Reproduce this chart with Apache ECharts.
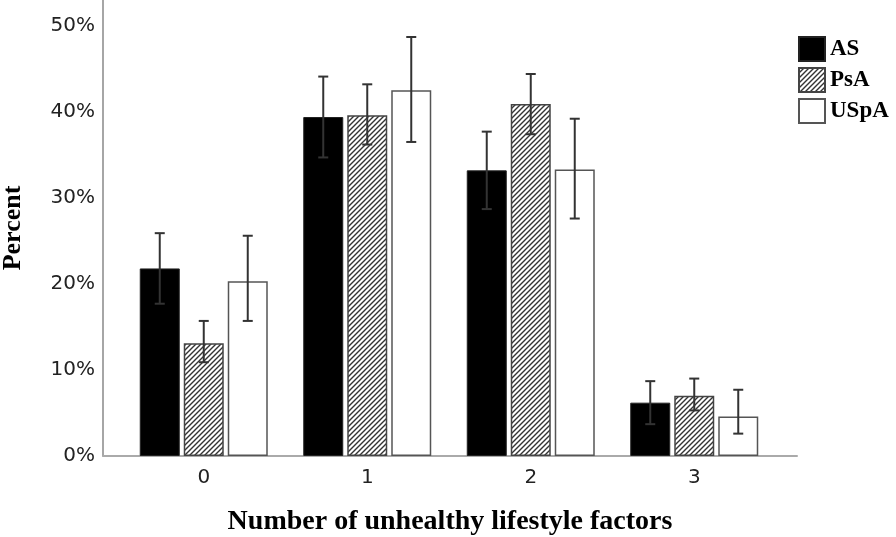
<!DOCTYPE html>
<html><head><meta charset="utf-8">
<script src="https://cdn.jsdelivr.net/npm/echarts@6/dist/echarts.min.js"></script>
<style>html,body{margin:0;padding:0;background:#fff}#c{width:896px;height:537px}</style>
</head><body><div id="c"></div>
<script>
const categories = ['0', '1', '2', '3'];
const seriesNames = ['AS', 'PsA', 'USpA'];
const asVals = [21.8, 39.4, 33.2, 6.2];
const psaVals = [13.1, 39.6, 40.9, 7.0];
const uspaVals = [20.3, 42.5, 33.3, 4.6];
const asErrLow = [17.7, 34.7, 28.7, 3.7];
const asErrHigh = [25.9, 44.1, 37.7, 8.7];
const psaErrLow = [10.9, 36.2, 37.4, 5.3];
const psaErrHigh = [15.7, 43.2, 44.4, 9.0];
const uspaErrLow = [15.7, 36.5, 27.6, 2.6];
const uspaErrHigh = [25.6, 48.7, 39.2, 7.7];
const yTicks = [0, 10, 20, 30, 40, 50];

// hatch pattern
const pc = document.createElement('canvas');
pc.width = 5; pc.height = 5;
const g = pc.getContext('2d');
g.fillStyle = '#fff'; g.fillRect(0, 0, 5, 5);
g.strokeStyle = '#333'; g.lineWidth = 1.4;
g.beginPath();
g.moveTo(-1, 6); g.lineTo(6, -1);
g.moveTo(-1, 1); g.lineTo(1, -1);
g.moveTo(4, 6); g.lineTo(6, 4);
g.stroke();
const hatch = { image: pc, repeat: 'repeat' };

const BAR_W = 40, BAR_STEP = 44;
function errSeries(idx, lows, highs) {
  return {
    type: 'custom', xAxisIndex: 0, yAxisIndex: 0, z: 10,
    data: lows.map((l, i) => [i, l, highs[i]]),
    renderItem: function (params, api) {
      const off = (idx - 1) * BAR_STEP;
      const p1 = api.coord([api.value(0), api.value(1)]);
      const p2 = api.coord([api.value(0), api.value(2)]);
      const x = p1[0] + off, hw = 5;
      const st = { stroke: '#333', lineWidth: 2 };
      return { type: 'group', children: [
        { type: 'line', shape: { x1: x, y1: p1[1], x2: x, y2: p2[1] }, style: st },
        { type: 'line', shape: { x1: x - hw, y1: p1[1], x2: x + hw, y2: p1[1] }, style: st },
        { type: 'line', shape: { x1: x - hw, y1: p2[1], x2: x + hw, y2: p2[1] }, style: st }
      ] };
    }
  };
}

const YMAX = 53;
const chart = echarts.init(document.getElementById('c'));
chart.setOption({
  animation: false,
  grid: [
    { left: 122, right: 120, top: 0, bottom: 81, outerBoundsMode: 'none', containLabel: false },
    { left: 103, right: 99, top: 0, bottom: 81, outerBoundsMode: 'none', containLabel: false }
  ],
  legend: {
    orient: 'vertical', left: 798, top: 36, padding: 0,
    itemWidth: 26, itemHeight: 24, itemGap: 5, icon: 'rect',
    data: seriesNames,
    textStyle: { fontFamily: 'Liberation Serif', fontWeight: 'bold', fontSize: 23, lineHeight: 24, color: '#000' }
  },
  xAxis: [
    { type: 'category', gridIndex: 0, data: categories,
      axisLine: { show: false }, axisTick: { show: false },
      axisLabel: { fontFamily: 'DejaVu Sans', fontSize: 20, color: '#222', margin: 12 } },
    { type: 'value', gridIndex: 1, min: 0, max: 1,
      axisLine: { show: true, lineStyle: { color: '#aaa', width: 2 } },
      axisTick: { show: false }, axisLabel: { show: false }, splitLine: { show: false },
      name: 'Number of unhealthy lifestyle factors', nameLocation: 'middle', nameGap: 52,
      nameTextStyle: { fontFamily: 'Liberation Serif', fontWeight: 'bold', fontSize: 28, color: '#000' } }
  ],
  yAxis: [
    { type: 'value', gridIndex: 0, min: 0, max: YMAX, interval: 10, show: false },
    { type: 'value', gridIndex: 1, min: 0, max: YMAX, interval: 10,
      axisLine: { show: true, lineStyle: { color: '#888', width: 1.5 } },
      axisTick: { show: false }, splitLine: { show: false },
      axisLabel: { fontFamily: 'DejaVu Sans', fontSize: 20, color: '#222', margin: 8,
        formatter: v => yTicks.includes(v) ? v + '%' : '' },
      name: 'Percent', nameLocation: 'middle', nameGap: 77,
      nameTextStyle: { fontFamily: 'Liberation Serif', fontWeight: 'bold', fontSize: 26, color: '#000' } }
  ],
  series: [
    { name: 'AS', type: 'bar', xAxisIndex: 0, yAxisIndex: 0, data: asVals, barWidth: BAR_W, barGap: '10%',
      itemStyle: { color: '#000', borderColor: '#222', borderWidth: 1 } },
    { name: 'PsA', type: 'bar', xAxisIndex: 0, yAxisIndex: 0, data: psaVals, barWidth: BAR_W, barGap: '10%',
      itemStyle: { color: hatch, borderColor: '#444', borderWidth: 1.5 } },
    { name: 'USpA', type: 'bar', xAxisIndex: 0, yAxisIndex: 0, data: uspaVals, barWidth: BAR_W, barGap: '10%',
      itemStyle: { color: '#fff', borderColor: '#555', borderWidth: 1.5 } },
    errSeries(0, asErrLow, asErrHigh),
    errSeries(1, psaErrLow, psaErrHigh),
    errSeries(2, uspaErrLow, uspaErrHigh)
  ]
});
</script></body></html>
